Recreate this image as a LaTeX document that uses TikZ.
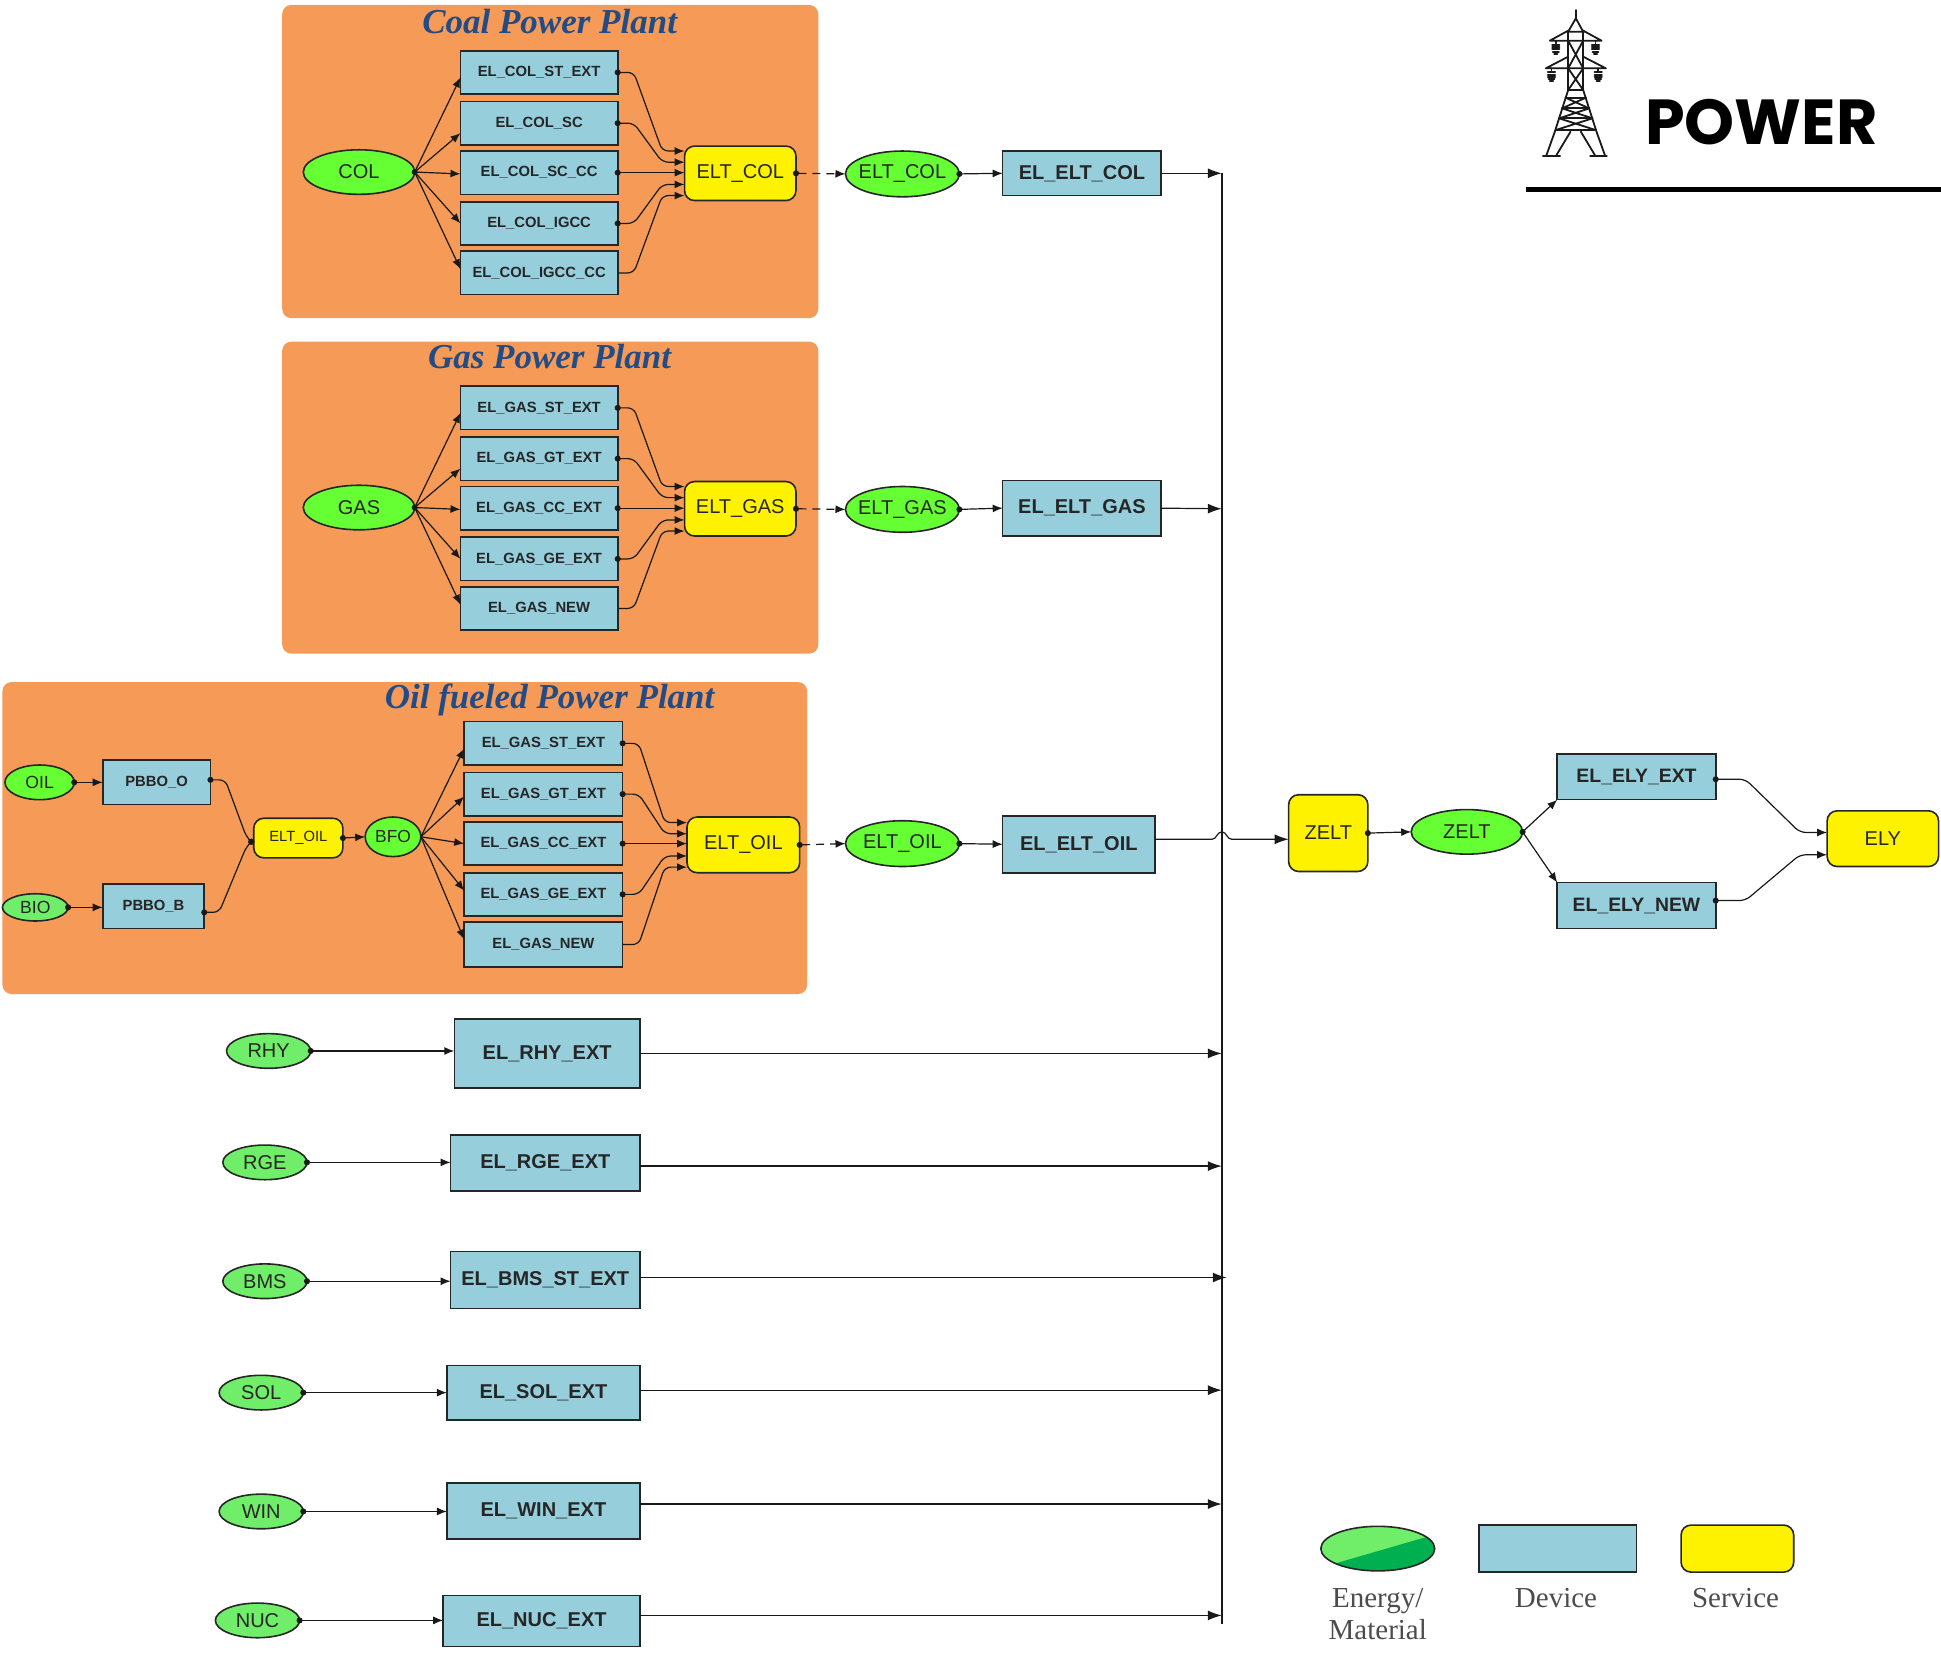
\documentclass[tikz,border=0pt]{standalone}
\usepackage{fontspec}
\setmainfont{Liberation Sans}
\newfontfamily\tnrfont{Liberation Serif}
\newfontfamily\popfont{Poppins}
\usetikzlibrary{arrows.meta,calc,shapes.geometric}
\definecolor{panelc}{HTML}{F59B57}
\definecolor{devc}{HTML}{96CEDC}
\definecolor{greenA}{HTML}{66FF33}
\definecolor{greenB}{HTML}{70EE6A}
\definecolor{greenC}{HTML}{00B050}
\definecolor{titlec}{HTML}{234C86}
\newcommand\fs[1]{\fontsize{#1}{#1}\selectfont}
\newcommand\zw[1]{\makebox[0pt]{#1}}
\newcommand\nb[7][]{\node[#1,minimum width={(#5-#3)*.619pt},minimum height={(#6-#4)*.619pt}] (#2) at ({(#3+#5)/2},{(#4+#6)/2}) {#7};}
\newcommand\bendc[3]{\draw[#1,rounded corners=3pt] (#2) -- ++(13,0) -- ($(#3)+(-18,0)$) -- (#3);}
\tikzset{
  base/.style={draw=black!85,line width=.8pt,inner sep=0pt,outer sep=0pt,text=black!85},
  dev/.style={base,rectangle,fill=devc,font=\bfseries\fs{10}},
  devs/.style={base,rectangle,fill=devc,font=\bfseries\fs{7.4}},
  svc/.style={base,rectangle,rounded corners=5pt,fill=yellow,font=\fs{10}},
  mat/.style={base,ellipse,fill=greenA,font=\fs{10}},
  matl/.style={base,ellipse,fill=greenB,font=\fs{10}},
  panel/.style={rectangle,rounded corners=4.5pt,fill=panelc,inner sep=0pt,outer sep=0pt},
  ttl/.style={inner sep=0pt,text=titlec,font=\tnrfont\bfseries\itshape\fs{17.5}},
  legt/.style={inner sep=0pt,text=black!70,font=\tnrfont\fs{14.5}},
  conn/.style={line width=.6pt,black!90,arrows={-Latex[length=5pt,width=4pt]}},
  dotconn/.style={line width=.6pt,black!90,arrows={Circle[length=3pt]-Latex[length=5pt,width=4pt]},shorten <=-1.5pt},
  dotdot/.style={line width=.6pt,black!90,arrows={Circle[length=3pt]-Circle[length=3pt]},shorten <=-1.5pt,shorten >=-1.5pt},
  dashconn/.style={dotconn,dash pattern=on 4pt off 3pt},
  busarrow/.style={line width=.6pt,black!90,arrows={-Latex[length=7pt,width=5pt]}},
  tower/.style={line width=.9pt,black!90,line cap=round}
}
\begin{document}
\begin{tikzpicture}[x=.619pt,y=-.619pt]
\useasboundingbox (0,0) rectangle (1568,1335);
% panels
\nb[panel]{pcoal}{228}{4}{661}{257}{}
\nb[panel]{pgas}{228}{276}{661}{528}{}
\nb[panel]{poil}{2}{551}{652}{803}{}
\node[ttl] (tcoal) at (444,17) {Coal Power Plant};
\node[ttl] (tgas) at (444,288) {Gas Power Plant};
\node[ttl] (toil) at (444,565) {Oil fueled Power Plant};
% coal plant
\nb[mat]{col}{245}{121}{335}{157}{\zw{COL}}
\nb[devs]{c1}{372}{41}{499}{76}{EL\_COL\_ST\_EXT}
\nb[devs]{c2}{372}{82}{499}{117}{EL\_COL\_SC}
\nb[devs]{c3}{372}{122}{499}{157}{EL\_COL\_SC\_CC}
\nb[devs]{c4}{372}{163}{499}{198}{EL\_COL\_IGCC}
\nb[devs]{c5}{372}{203}{499}{238}{EL\_COL\_IGCC\_CC}
\nb[svc]{ec}{553}{118}{643}{162}{ELT\_COL}
\nb[mat]{mc}{683}{122}{775}{159}{\zw{ELT\_COL}}
\nb[dev]{dc}{810}{122}{938}{158}{EL\_ELT\_COL}
% gas plant
\nb[mat]{gas}{245}{392}{335}{428}{\zw{GAS}}
\nb[devs]{g1}{372}{312}{499}{347}{EL\_GAS\_ST\_EXT}
\nb[devs]{g2}{372}{353}{499}{388}{EL\_GAS\_GT\_EXT}
\nb[devs]{g3}{372}{393}{499}{428}{EL\_GAS\_CC\_EXT}
\nb[devs]{g4}{372}{434}{499}{469}{EL\_GAS\_GE\_EXT}
\nb[devs]{g5}{372}{474}{499}{509}{EL\_GAS\_NEW}
\nb[svc]{eg}{553}{389}{643}{433}{ELT\_GAS}
\nb[mat]{mg}{683}{393}{775}{430}{\zw{ELT\_GAS}}
\nb[dev]{dg}{810}{388}{938}{433}{EL\_ELT\_GAS}
% oil plant
\nb[mat,font=\fs{8.8}]{oil}{4}{618}{60}{646}{\zw{OIL}}
\nb[matl,font=\fs{8.8}]{bio}{2}{722}{55}{744}{\zw{BIO}}
\nb[devs]{po}{83}{614}{170}{650}{PBBO\_O}
\nb[devs]{pb}{83}{714}{165}{750}{PBBO\_B}
\nb[svc,font=\fs{7.4}]{es}{205}{661}{277}{693}{ELT\_OIL}
\nb[mat,font=\fs{8.7}]{bfo}{295}{660}{340}{692}{\zw{BFO}}
\nb[devs]{o1}{375}{583}{503}{618}{EL\_GAS\_ST\_EXT}
\nb[devs]{o2}{375}{624}{503}{659}{EL\_GAS\_GT\_EXT}
\nb[devs]{o3}{375}{664}{503}{699}{EL\_GAS\_CC\_EXT}
\nb[devs]{o4}{375}{705}{503}{740}{EL\_GAS\_GE\_EXT}
\nb[devs]{o5}{375}{745}{503}{781}{EL\_GAS\_NEW}
\nb[svc]{eo}{555}{660}{646}{705}{ELT\_OIL}
\nb[mat]{mo}{683}{663}{775}{700}{\zw{ELT\_OIL}}
\nb[dev]{do}{810}{659}{933}{705}{EL\_ELT\_OIL}
% electricity side
\nb[svc]{zs}{1041}{642}{1105}{704}{ZELT}
\nb[mat]{zm}{1140}{654}{1230}{690}{\zw{ZELT}}
\nb[dev,font=\bfseries\fs{9.7}]{ex}{1258}{609}{1386}{646}{EL\_ELY\_EXT}
\nb[dev,font=\bfseries\fs{9.7}]{en}{1258}{713}{1386}{750}{EL\_ELY\_NEW}
\nb[svc]{ely}{1476}{655}{1566}{700}{ELY}
% renewable rows
\nb[matl]{rhy}{183}{835}{251}{863}{\zw{RHY}}
\nb[dev]{drhy}{367}{823}{517}{879}{EL\_RHY\_EXT}
\nb[matl]{rge}{180}{925}{248}{953}{\zw{RGE}}
\nb[dev]{drge}{364}{917}{517}{962}{EL\_RGE\_EXT}
\nb[matl]{bms}{180}{1021}{248}{1049}{\zw{BMS}}
\nb[dev]{dbms}{364}{1011}{517}{1057}{EL\_BMS\_ST\_EXT}
\nb[matl]{sol}{177}{1111}{245}{1139}{\zw{SOL}}
\nb[dev]{dsol}{361}{1103}{517}{1147}{EL\_SOL\_EXT}
\nb[matl]{win}{177}{1207}{245}{1235}{\zw{WIN}}
\nb[dev]{dwin}{361}{1198}{517}{1243}{EL\_WIN\_EXT}
\nb[matl]{nuc}{174}{1295}{242}{1323}{\zw{NUC}}
\nb[dev]{dnuc}{358}{1289}{517}{1330}{EL\_NUC\_EXT}
% bus coordinates
\coordinate (b1) at (987,140);
\coordinate (b2) at (987,411);
\coordinate (hopa) at (979,678);
\coordinate (hopb) at (995,678);
\coordinate (b3) at (987,851);
\coordinate (b4) at (987,942);
\coordinate (b5) at (991,1032);
\coordinate (b6) at (987,1123);
\coordinate (b7) at (987,1215);
\coordinate (b8) at (987,1305);
\coordinate (bbot) at (987,1312);
\draw[line width=.7pt,black!90] (b1) -- (bbot);
% fans
\foreach \n/\d in {1/4,2/8,3/1,4/0,5/-3}
  \draw[conn] (col.east) -- ($(c\n.west)+(0,\d)$);
\foreach \n/\d in {1/4,2/8,3/1,4/0,5/-3}
  \draw[conn] (gas.east) -- ($(g\n.west)+(0,\d)$);
\foreach \n/\d in {1/4,2/2,3/0,4/-3,5/-4}
  \draw[conn] (bfo.east) -- ($(o\n.west)+(0,\d)$);
\fill[black!90] (col.east) circle (1.5pt) (gas.east) circle (1.5pt);
% into services
\foreach \p/\e in {c/ec,g/eg,o/eo}{
  \bendc{dotconn}{\p1.east}{$(\e.west)+(0,-18)$}
  \bendc{dotconn}{\p2.east}{$(\e.west)+(0,-9)$}
  \draw[dotconn] (\p3.east) -- (\p3.east -| \e.west);
  \bendc{dotconn}{\p4.east}{$(\e.west)+(0,9)$}
  \bendc{conn}{\p5.east}{$(\e.west)+(0,18)$}
}
% service to material to device to bus
\draw[dashconn] (ec.east) -- (mc.west);
\draw[dashconn] (eg.east) -- (mg.west);
\draw[dashconn] (eo.east) -- (mo.west);
\draw[dotconn] (mc.east) -- (dc.west);
\draw[dotconn] (mg.east) -- (dg.west);
\draw[dotconn] (mo.east) -- (do.west);
\draw[busarrow] (dc.east) -- (b1);
\draw[busarrow] (dg.east) -- (b2);
\draw[busarrow] (do.east |- hopa) -- (hopa) .. controls (983,678) and (983,672) .. (987,672) .. controls (991,672) and (991,678) .. (hopb) -- (zs.west |- hopb);
% oil inputs
\draw[dotconn] (oil.east) -- (po.west |- oil.east);
\draw[dotconn] (bio.east) -- (pb.west |- bio.east);
\coordinate (esin) at ($(es.west)+(-2,3)$);
\draw[dotdot,rounded corners=3pt] ($(po.east)+(0,-2)$) -- ++(12,0) -- ($(esin)+(-4,-4)$) -- (esin);
\draw[dotdot,rounded corners=3pt] ($(pb.east)+(0,5)$) -- ++(12,0) -- ($(esin)+(-4,4)$) -- (esin);
\draw[dotconn] (es.east) -- (bfo.west);
% electricity side
\draw[dotconn] (zs.east) -- (zm.west);
\draw[dotconn] (zm.east) -- (ex.south west);
\draw[conn] (zm.east) -- (en.north west);
\draw[dotconn,rounded corners=3pt] ($(ex.east)+(0,2)$) -- ++(24,0) -- ($(ely.west)+(-22,-5)$) -- ($(ely.west)+(0,-5)$);
\draw[dotconn,rounded corners=3pt] ($(en.east)+(0,-4)$) -- ++(24,0) -- ($(ely.west)+(-22,13)$) -- ($(ely.west)+(0,13)$);
% renewable connectors
\foreach \m/\d/\bb in {rhy/drhy/b3,rge/drge/b4,bms/dbms/b5,sol/dsol/b6,win/dwin/b7,nuc/dnuc/b8}{
  \draw[dotconn] (\m.east) -- (\d.west |- \m.east);
  \draw[busarrow] (\d.east |- \bb) -- (\bb);
}
% heading
\node[inner sep=0pt,font=\popfont\bfseries\fs{31.8},text=black] (powt) at (1423,99) {POWER};
\coordinate (rulea) at (1233,153);
\coordinate (ruleb) at (1568,153);
\draw[line width=2.4pt,black] (rulea) -- (ruleb);
\begin{scope}[shift={(1211.6,0)},x=.1667pt,y=-.1667pt,tower]
  \draw (228,30)--(228,60);
  \draw (228,55)--(205,95)--(250,95)--cycle;
  \draw (205,95)--(205,270)--(250,270)--(250,95);
  \draw (150,122)--(305,122) (150,122)--(205,92) (305,122)--(250,92);
  \draw (138,205)--(318,205) (138,205)--(205,170) (318,205)--(250,170);
  \draw (205,122)--(250,205) (250,122)--(205,205) (205,205)--(250,270) (250,205)--(205,270);
  \draw (205,270)--(165,395)--(140,465) (250,270)--(290,395)--(315,465);
  \draw (197,293)--(258,293) (187,325)--(268,325) (178,355)--(278,355) (168,390)--(287,390);
  \draw (197,293)--(268,325) (258,293)--(187,325) (187,325)--(278,355) (268,325)--(178,355) (178,355)--(287,390) (278,355)--(168,390);
  \draw (212,395)--(170,465) (243,395)--(285,465);
  \draw[line width=1.4pt] (130,468)--(180,468) (272,468)--(320,468);
  \foreach \x/\y in {168/122,287/122,155/205,295/205}{
    \draw (\x,\y)--(\x,\y+8);
    \draw (\x-11,\y+12)--(\x+11,\y+12) (\x-11,\y+19)--(\x+11,\y+19) (\x-11,\y+26)--(\x+11,\y+26) (\x-9,\y+33)--(\x+9,\y+33) (\x-5,\y+39)--(\x+5,\y+39);
  }
\end{scope}
% legend
\begin{scope}
  \clip (1113,1251) ellipse [x radius=46,y radius=18];
  \fill[greenB] (1060,1230) rectangle (1170,1275);
  \fill[greenC] (1082,1262) -- (1151,1242) -- (1170,1242) -- (1170,1280) -- (1060,1280) -- (1060,1268) -- cycle;
\end{scope}
\nb[base,ellipse]{lege}{1067}{1233}{1159}{1269}{}
\nb[dev]{legd}{1195}{1232}{1322}{1270}{}
\nb[svc]{legs}{1358}{1232}{1449}{1270}{}
\node[legt,align=center] (lt1) at (1113,1304) {Energy/\\[1.5pt]Material};
\node[legt] (lt2) at (1257,1291) {Device};
\node[legt] (lt3) at (1402,1291) {Service};
\end{tikzpicture}
\end{document}
